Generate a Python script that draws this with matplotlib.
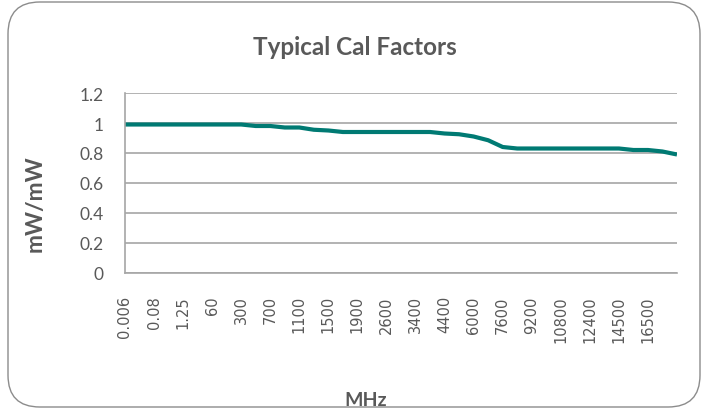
"""Typical cal factors of a power sensor versus frequency."""

import matplotlib.pyplot as plt
from matplotlib.patches import FancyBboxPatch

# frequency categories (MHz); only every other one gets a tick label
freq_mhz = [
    "0.006", "0.01", "0.08", "0.5", "1.25", "10", "60", "100", "300", "500",
    "700", "900", "1100", "1300", "1500", "1700", "1900", "2200", "2600", "3000",
    "3400", "3900", "4400", "5200", "6000", "6800", "7600", "8400", "9200", "10000",
    "10800", "11600", "12400", "13400", "14500", "15500", "16500", "17500", "18000",
]
cal_factor = [
    0.99, 0.99, 0.99, 0.99, 0.99, 0.99, 0.99, 0.99, 0.99, 0.98,
    0.98, 0.97, 0.97, 0.955, 0.95, 0.94, 0.94, 0.94, 0.94, 0.94,
    0.94, 0.94, 0.93, 0.925, 0.91, 0.885, 0.84, 0.83, 0.83, 0.83,
    0.83, 0.83, 0.83, 0.83, 0.83, 0.82, 0.82, 0.81, 0.79,
]
y_ticks = [0, 0.2, 0.4, 0.6, 0.8, 1.0, 1.2]
y_labels = ["0", "0.2", "0.4", "0.6", "0.8", "1", "1.2"]

TEXT = "#595959"
GRID = "#a6a6a6"
LINE = "#007a73"

fig = plt.figure(figsize=(7.08, 4.14), dpi=100)
W, H = 708, 414

# rounded chart border, kept behind the axes
frame = FancyBboxPatch(
    (8 / W, 6 / H), 692 / W, 405 / H,
    boxstyle="round,pad=0,rounding_size=0.045",
    transform=fig.transFigure, facecolor="white", edgecolor="#8c8c8c",
    linewidth=1.0, mutation_aspect=W / H, zorder=-5,
)
fig.patches.append(frame)

ax = fig.add_axes([125 / W, 1 - 274 / H, (677 - 125) / W, (274 - 94) / H])
ax.set_zorder(2)
ax.patch.set_alpha(0)
x = list(range(len(freq_mhz)))
ax.plot(x, cal_factor, color=LINE, linewidth=3.0, solid_capstyle="butt")

ax.set_xlim(0, len(freq_mhz) - 1)
ax.set_ylim(0, 1.2)
ax.set_yticks(y_ticks)
ax.set_yticklabels(y_labels, family="Lato", fontsize=12.5, color=TEXT)
ax.set_xticks(x[:37:2])
ax.set_xticklabels(freq_mhz[:37:2], rotation=90, family="DejaVu Sans",
                   fontsize=10.5, color=TEXT)
ax.tick_params(axis="both", length=0)
ax.tick_params(axis="x", pad=16)
ax.tick_params(axis="y", pad=15.5)

ax.grid(axis="y", color=GRID, linewidth=1.2)
ax.set_axisbelow(True)
for side in ("top", "right"):
    ax.spines[side].set_visible(False)
for side in ("left", "bottom"):
    ax.spines[side].set_color(GRID)
    ax.spines[side].set_linewidth(1.2)

fig.text(355 / W, 1 - 55 / H, "Typical Cal Factors", ha="center", va="baseline",
         family="Lato", fontweight="bold", fontsize=17.5, color=TEXT)
fig.text(35 / W, 1 - 204 / H, "mW/mW", ha="center", va="center", rotation=90,
         family="Lato", fontweight="bold", fontsize=16.5, color=TEXT)
fig.text(366 / W, 1 - 401 / H, "MHz", ha="center", va="center",
         family="Lato", fontweight="bold", fontsize=14, color=TEXT)

fig.savefig("out.png", dpi=100)
